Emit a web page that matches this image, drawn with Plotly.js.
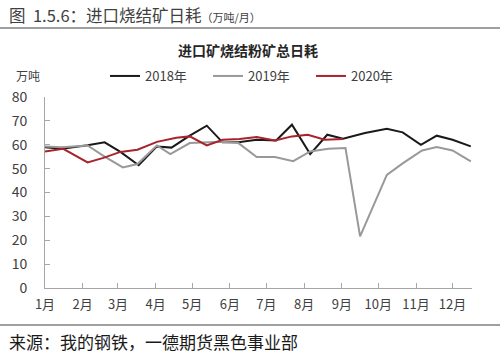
<!DOCTYPE html>
<html>
<head>
<meta charset="utf-8">
<script src="https://cdn.plot.ly/plotly-3.0.1.min.js"></script>
<style>
html,body{margin:0;padding:0;background:#fff;}
#chart{width:500px;height:358px;}
</style>
</head>
<body>
<div id="chart"></div>
<script>
// Month ticks (common axis year 2020)
const monthTicks = ["01-01","02-01","03-01","04-01","05-01","06-01","07-01","08-01","09-01","10-01","11-01","12-01"];
const monthLabels = ["1月","2月","3月","4月","5月","6月","7月","8月","9月","10月","11月","12月"];

// 2018
const dates2018 = ["01-01","01-15","02-05","02-19","03-03","03-18","04-02","04-14","04-29","05-13","05-26","06-08","06-23","07-09","07-22","08-06","08-20","09-02","09-20","10-08","10-21","11-05","11-18","12-01","12-16"];
const vals2018 = [59.0,58.3,59.8,61.0,57.0,51.4,59.3,58.8,63.8,68.0,61.0,61.0,62.1,61.8,68.4,56.1,64.2,62.5,64.9,66.7,65.2,60.0,63.8,62.1,59.3];

// 2019
const dates2019 = ["01-01","01-15","02-05","02-19","03-05","03-17","04-02","04-13","04-29","05-14","05-26","06-08","06-23","07-08","07-23","08-06","08-21","09-04","09-16","10-08","10-21","11-06","11-18","12-01","12-16"];
const vals2019 = [59.3,59.0,59.7,55.0,50.5,51.9,59.7,56.1,60.7,61.0,61.3,60.7,54.9,54.9,53.1,57.2,58.3,58.6,21.6,47.4,52.2,57.6,59.0,57.6,53.0];

// 2020
const dates2020 = ["01-01","01-16","02-05","02-18","03-03","03-17","04-02","04-18","04-29","05-13","05-26","06-09","06-23","07-08","07-22","08-04","08-18","09-02"];
const vals2020 = [57.2,58.3,52.6,54.5,57.0,57.9,61.2,62.9,63.5,59.7,62.1,62.4,63.2,61.8,63.5,64.2,62.1,62.4];

const seriesNames = ["2018年","2019年","2020年"];
const axisYear = "2020-";
const toAxis = arr => arr.map(d => axisYear + d);

const FONT = '"Noto Sans CJK SC", "Noto Sans", sans-serif';

const traces = [
  {x: toAxis(dates2018), y: vals2018, name: seriesNames[0], type: 'scatter', mode: 'lines', line: {color: '#1a1a1a', width: 2}},
  {x: toAxis(dates2019), y: vals2019, name: seriesNames[1], type: 'scatter', mode: 'lines', line: {color: '#999999', width: 2}},
  {x: toAxis(dates2020), y: vals2020, name: seriesNames[2], type: 'scatter', mode: 'lines', line: {color: '#a8232b', width: 2}}
];

// plot area: x 45..472, y 97..288
const L = 45, R = 472, T = 97, B = 288;
const px = v => (v - L) / (R - L);
const py = v => (B - v) / (B - T);

const layout = {
  width: 500, height: 358,
  margin: {l: L, r: 500 - R, t: T, b: 358 - B, pad: 0},
  paper_bgcolor: '#fff', plot_bgcolor: '#fff',
  font: {family: FONT, size: 13, color: '#404040'},
  showlegend: true,
  legend: {
    orientation: 'h', x: px(105), xanchor: 'left', y: py(76), yanchor: 'middle',
    font: {family: FONT, size: 13, color: '#404040'},
    entrywidth: 58, entrywidthmode: 'pixels', bgcolor: 'rgba(0,0,0,0)', tracegroupgap: 0
  },
  xaxis: {
    type: 'date',
    range: ['2020-01-01', '2020-12-17'],
    tickvals: toAxis(monthTicks), ticktext: monthLabels,
    ticks: 'inside', ticklen: 5, tickcolor: '#a6a6a6', tickwidth: 1,
    showline: true, linecolor: '#a6a6a6', linewidth: 1,
    showgrid: false, zeroline: false,
    tickfont: {family: FONT, size: 13, color: '#404040'},
    ticklabelstandoff: 4
  },
  yaxis: {
    range: [0, 80], dtick: 10, tick0: 0,
    ticks: 'inside', ticklen: 5, tickcolor: '#a6a6a6', tickwidth: 1,
    showline: true, linecolor: '#a6a6a6', linewidth: 1,
    showgrid: false, zeroline: false,
    tickfont: {family: FONT, size: 14, color: '#404040'},
    ticklabelstandoff: 14
  },
  shapes: [
    {type: 'line', xref: 'paper', yref: 'paper', x0: px(0), x1: px(500), y0: py(28), y1: py(28), line: {color: '#a0a0a0', width: 2}},
    {type: 'line', xref: 'paper', yref: 'paper', x0: px(0), x1: px(500), y0: py(325), y1: py(325), line: {color: '#a0a0a0', width: 2}}
  ],
  annotations: [
    {xref: 'paper', yref: 'paper', x: px(7), y: py(15), xanchor: 'left', yanchor: 'middle', showarrow: false,
     text: "图  1.5.6：进口烧结矿日耗<span style='font-size:11px'>（万吨/月）</span>",
     font: {family: FONT, size: 16.5, color: '#404040'}},
    {xref: 'paper', yref: 'paper', x: px(248), y: py(50), xanchor: 'center', yanchor: 'middle', showarrow: false,
     text: "<b>进口矿烧结粉矿总日耗</b>", font: {family: FONT, size: 14, color: '#262626'}},
    {xref: 'paper', yref: 'paper', x: px(14), y: py(76), xanchor: 'left', yanchor: 'middle', showarrow: false,
     text: "万吨", font: {family: FONT, size: 12, color: '#404040'}},
    {xref: 'paper', yref: 'paper', x: px(7), y: py(341), xanchor: 'left', yanchor: 'middle', showarrow: false,
     text: "来源：我的钢铁，一德期货黑色事业部", font: {family: FONT, size: 17, color: '#1a1a1a'}}
  ]
};

Plotly.newPlot('chart', traces, layout, {displayModeBar: false, staticPlot: true});
</script>
</body>
</html>
